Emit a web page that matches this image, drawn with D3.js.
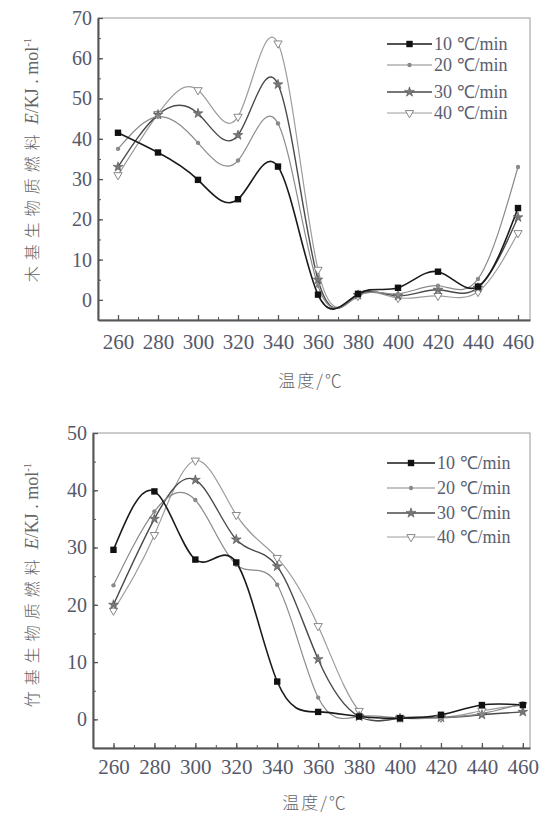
<!DOCTYPE html>
<html lang="zh">
<head>
    <meta charset="UTF-8">
    <title>活化能</title>
    <script src="https://d3js.org/d3.v7.min.js"></script>
    <style>
        body { margin: 0; background: #fff; }
        text { font-family: "Liberation Serif", "Times New Roman", serif; }
    </style>
</head>
<body>
<script>

    // temperatures, deg C
    var temps = [260, 280, 300, 320, 340, 360, 380, 400, 420, 440, 460];
    var xTicks = [260, 280, 300, 320, 340, 360, 380, 400, 420, 440, 460];

    var seriesNames = ["10 \u2103/min", "20 \u2103/min", "30 \u2103/min", "40 \u2103/min"];

    // wood based fuel, E in kJ/mol
    var wood10 = [41.5, 36.6, 29.8, 25.0, 33.1, 1.3, 1.5, 3.0, 7.0, 3.3, 22.8];
    var wood20 = [37.5, 45.5, 39.0, 34.6, 43.8, 3.5, 1.0, 1.5, 3.5, 5.2, 33.0];
    var wood30 = [33.0, 46.0, 46.3, 40.9, 53.5, 5.0, 1.2, 1.0, 2.5, 3.0, 20.5];
    var wood40 = [31.0, 46.2, 52.1, 45.5, 63.7, 7.5, 1.0, 0.5, 1.0, 2.0, 16.6];
    var woodYTicks = [0, 10, 20, 30, 40, 50, 60, 70];

    // bamboo based fuel
    var bamboo10 = [29.6, 39.8, 27.9, 27.4, 6.6, 1.3, 0.5, 0.2, 0.8, 2.5, 2.5];
    var bamboo20 = [23.4, 36.3, 38.3, 27.0, 23.5, 3.8, 0.5, 0.2, 0.3, 1.0, 2.8];
    var bamboo30 = [20.0, 35.0, 41.8, 31.4, 26.7, 10.5, 0.5, 0.2, 0.3, 0.8, 1.3];
    var bamboo40 = [19.0, 32.2, 45.2, 35.7, 28.2, 16.3, 1.5, 0.3, 0.3, 1.5, 2.5];
    var bambooYTicks = [0, 10, 20, 30, 40, 50];

    var styles = [
        { color: "#1a1a1a", width: 1.6, mark: "square" },
        { color: "#8a8a8a", width: 1.2, mark: "circle" },
        { color: "#4a4a4a", width: 1.4, mark: "star" },
        { color: "#9c9c9c", width: 1.2, mark: "tri" }
    ];

    var svg = d3.select("body").append("svg")
        .attr("width", 539)
        .attr("height", 816);

    function drawMarker(g, mark, x, y) {
        if (mark === "square") {
            g.append("rect").attr("x", x - 3.2).attr("y", y - 3.2)
                .attr("width", 6.4).attr("height", 6.4).attr("fill", "#111");
        } else if (mark === "circle") {
            g.append("circle").attr("cx", x).attr("cy", y).attr("r", 2.2)
                .attr("fill", "#8a8a8a");
        } else if (mark === "star") {
            g.append("path").attr("d", d3.symbol().type(d3.symbolStar).size(30)())
                .attr("transform", "translate(" + x + "," + y + ")")
                .attr("fill", "#777").attr("stroke", "#555").attr("stroke-width", 0.6);
        } else {
            g.append("path").attr("d", d3.symbol().type(d3.symbolTriangle).size(30)())
                .attr("transform", "translate(" + x + "," + y + ") rotate(180)")
                .attr("fill", "#fff").attr("stroke", "#888").attr("stroke-width", 1);
        }
    }

    function drawPanel(p) {
        var x = d3.scaleLinear().domain(p.xDomain).range([p.left, p.right]);
        var y = d3.scaleLinear().domain(p.yDomain).range([p.bottom, p.top]);
        var g = svg.append("g");

        // frame
        g.append("rect")
            .attr("x", p.left).attr("y", p.top)
            .attr("width", p.right - p.left).attr("height", p.bottom - p.top)
            .attr("fill", "none").attr("stroke", "#999").attr("stroke-width", 1);

        // minor ticks
        var minorX = d3.range(p.xDomain[0], p.xDomain[1], 10).filter(function (v) { return v >= 260 && v <= 460; });
        var minorY = d3.range(0, p.yDomain[1] + 0.1, 5);
        g.append("g").attr("transform", "translate(0," + p.bottom + ")")
            .call(d3.axisBottom(x).tickValues(minorX).tickSize(-3).tickSizeOuter(0).tickFormat(""))
            .call(function (a) { a.select(".domain").remove(); a.selectAll("line").attr("stroke", "#555"); });
        g.append("g").attr("transform", "translate(" + p.left + ",0)")
            .call(d3.axisLeft(y).tickValues(minorY).tickSize(-3).tickSizeOuter(0).tickFormat(""))
            .call(function (a) { a.select(".domain").remove(); a.selectAll("line").attr("stroke", "#555"); });

        // major ticks + labels
        var ax = g.append("g").attr("transform", "translate(0," + p.bottom + ")")
            .call(d3.axisBottom(x).tickValues(xTicks).tickSize(-5).tickSizeOuter(0).tickPadding(p.xPad));
        ax.select(".domain").attr("stroke", "#555").attr("stroke-width", 2);
        ax.selectAll("line").attr("stroke", "#555").attr("stroke-width", 1.3);
        ax.selectAll("text").attr("font-size", 21).attr("fill", "#55596a")
            .style("font-family", "'Liberation Serif', serif");

        var ay = g.append("g").attr("transform", "translate(" + p.left + ",0)")
            .call(d3.axisLeft(y).tickValues(p.yTicks).tickSize(-5).tickSizeOuter(0).tickPadding(p.yPad));
        ay.select(".domain").attr("stroke", "#555").attr("stroke-width", 2);
        ay.selectAll("line").attr("stroke", "#555").attr("stroke-width", 1.3);
        ay.selectAll("text").attr("font-size", 20).attr("fill", "#55596a")
            .style("font-family", "'Liberation Serif', serif");

        // curves
        var clipId = "clip" + p.id;
        svg.append("clipPath").attr("id", clipId).append("rect")
            .attr("x", p.left).attr("y", p.top)
            .attr("width", p.right - p.left).attr("height", p.bottom - p.top);

        var line = d3.line()
            .x(function (d, i) { return x(temps[i]); })
            .y(function (d) { return y(d); })
            .curve(d3.curveNatural);

        var plot = g.append("g").attr("clip-path", "url(#" + clipId + ")");
        for (var s = 3; s >= 0; s--) {
            plot.append("path")
                .attr("d", line(p.series[s]))
                .attr("fill", "none")
                .attr("stroke", styles[s].color)
                .attr("stroke-width", styles[s].width);
        }
        for (var s2 = 3; s2 >= 0; s2--) {
            p.series[s2].forEach(function (v, i) {
                drawMarker(plot, styles[s2].mark, x(temps[i]), y(v));
            });
        }

        // legend
        p.legendY.forEach(function (ly, i) {
            g.append("line")
                .attr("x1", p.legendX).attr("x2", p.legendX + p.legendLen)
                .attr("y1", ly).attr("y2", ly)
                .attr("stroke", styles[i].color).attr("stroke-width", styles[i].width);
            drawMarker(g, styles[i].mark, p.legendX + p.legendLen / 2, ly);
            g.append("text")
                .attr("x", p.legendX + p.legendLen + 2).attr("y", ly + 6)
                .attr("font-size", 18).attr("fill", "#5a5e70")
                .text(seriesNames[i]);
        });

        // axis titles
        g.append("text")
            .attr("x", p.xTitleX).attr("y", p.xTitleY)
            .attr("text-anchor", "middle")
            .attr("font-size", 17).attr("fill", "#666")
            .style("font-family", "'Noto Sans CJK SC', sans-serif")
            .style("font-weight", 300)
            .style("letter-spacing", "2px")
            .text("温度/\u2103");

        var yt = g.append("text")
            .attr("transform", "translate(" + p.yTitleX + "," + p.yTitleY + ") rotate(-90)")
            .attr("text-anchor", "middle")
            .attr("font-size", 16).attr("fill", "#666");
        yt.append("tspan")
            .style("font-family", "'Noto Sans CJK SC', sans-serif")
            .style("font-weight", 300)
            .style("letter-spacing", "6px")
            .text(p.yTitle);
        yt.append("tspan").attr("font-style", "italic").attr("font-size", 18).attr("dx", 4).text("E");
        yt.append("tspan").attr("font-size", 18).text("/KJ . mol");
        yt.append("tspan").attr("font-size", 11).attr("dy", -7).text("-1");
    }

    drawPanel({
        id: 1,
        series: [wood10, wood20, wood30, wood40],
        xDomain: [250, 466], yDomain: [-5, 70], yTicks: woodYTicks,
        left: 98, right: 530, top: 18, bottom: 320,
        xPad: 14, yPad: 6,
        legendX: 387, legendLen: 45, legendY: [44, 65, 92, 113],
        xTitleX: 311, xTitleY: 387,
        yTitle: "木基生物质燃料", yTitleX: 38, yTitleY: 160
    });

    drawPanel({
        id: 2,
        series: [bamboo10, bamboo20, bamboo30, bamboo40],
        xDomain: [250, 463.5], yDomain: [-5, 50], yTicks: bambooYTicks,
        left: 93, right: 530, top: 433, bottom: 748,
        xPad: 11, yPad: 6,
        legendX: 387, legendLen: 48, legendY: [463, 488, 513, 537],
        xTitleX: 315, xTitleY: 809,
        yTitle: "竹基生物质燃料", yTitleX: 38, yTitleY: 585
    });

</script>
</body>
</html>
